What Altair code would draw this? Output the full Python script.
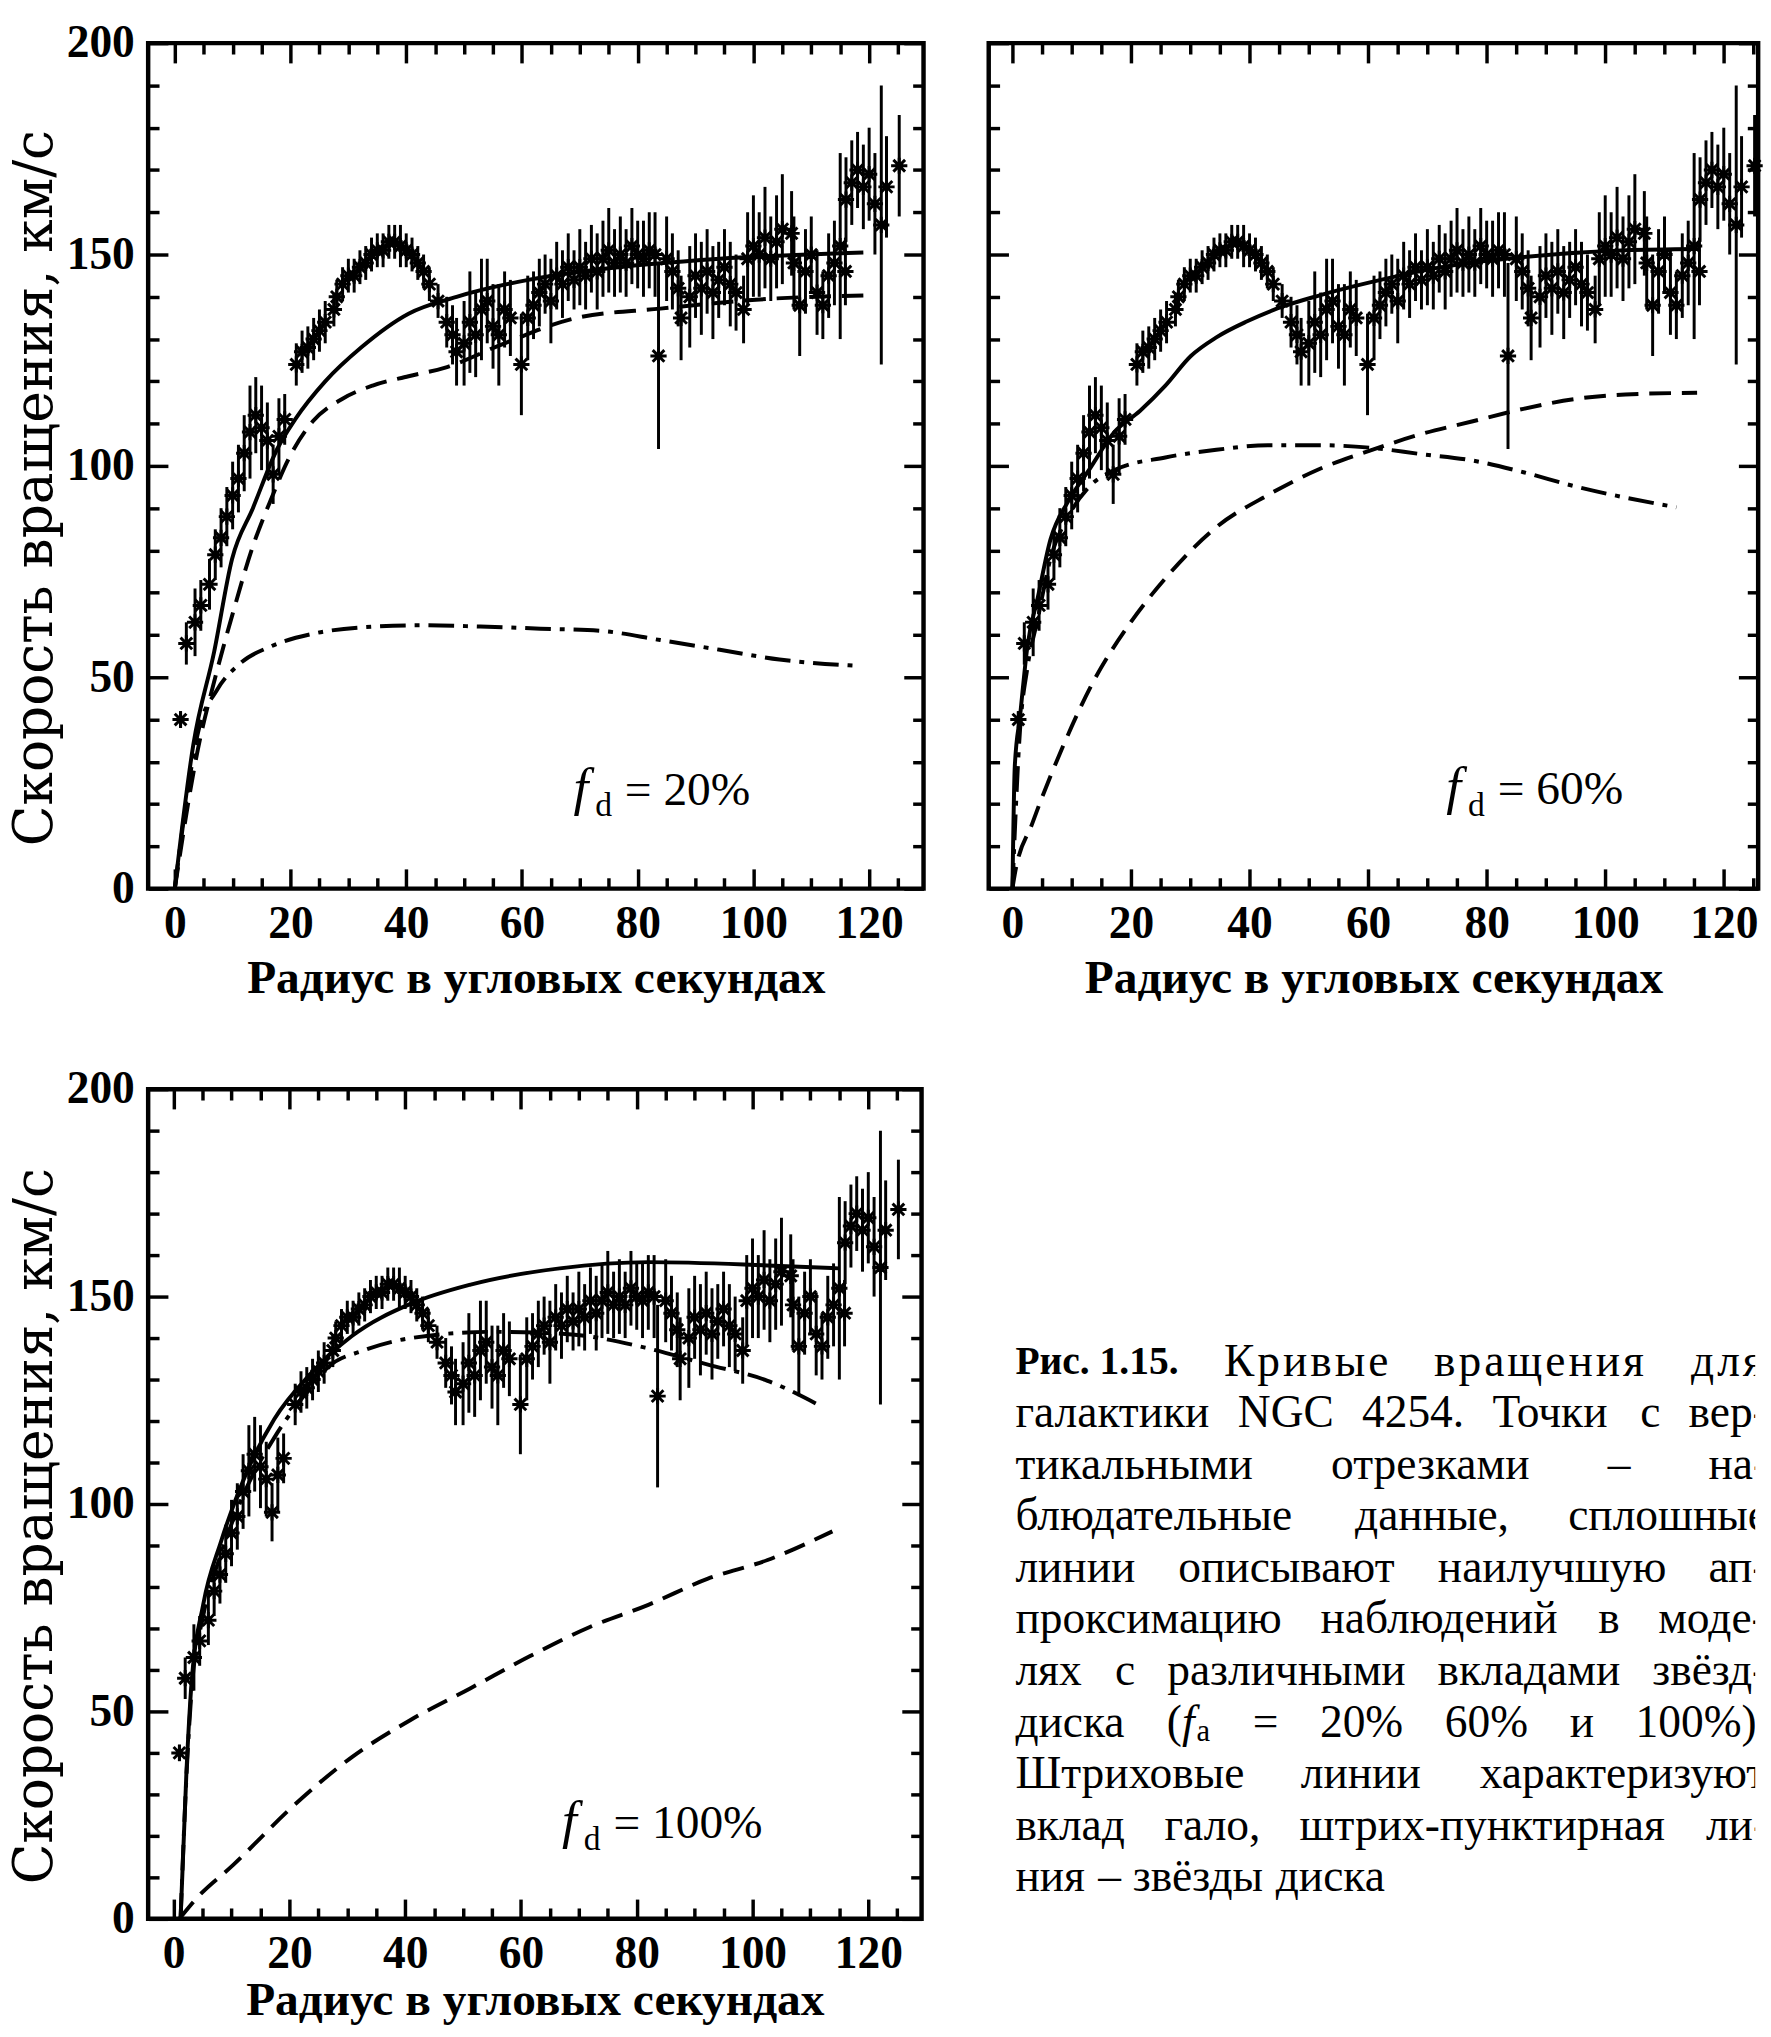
import altair as alt
import pandas as pd

# ---------------------------------------------------------------------------
# Observed rotation curve of NGC 4254: radius (arcsec), velocity and error (km/s)
# ---------------------------------------------------------------------------
obs_radius = [
    1, 2, 3.5, 4.5, 6, 7, 8, 9, 10, 11, 12, 13, 14, 15, 16, 17, 18, 19,
    21, 22, 23, 24, 25, 26, 27.5, 28, 29, 30, 31, 32, 33, 34, 35, 36, 37, 38, 39,
    40, 41, 42, 43, 44, 45.5, 47, 48, 48.7, 50, 51, 52, 53, 54, 55, 56, 57, 58,
    59.9, 61, 62, 63, 64, 65, 66, 67, 68, 69, 70, 71, 72, 73, 74, 75, 76, 77, 78,
    79, 80, 81, 82, 83, 83.6, 85, 86, 87, 87.5, 89, 90, 91, 92, 93, 94, 95, 96, 97,
    98.3, 99, 100, 101, 102, 103, 104, 105, 106.6, 107, 108, 109, 110, 111, 112,
    113, 114, 115, 115.9, 116, 117, 118, 119, 120, 121, 122.1, 123, 125.2,
]
obs_velocity = [
    40, 58, 63, 67, 72, 79, 83, 88, 93, 97, 103, 108, 112, 109, 106, 98, 107, 111,
    124, 127, 128, 130, 132, 134, 137, 140, 143, 145, 145, 147, 148, 150, 151, 151, 153, 153, 152,
    151, 150, 148, 146, 143, 139, 134, 131, 127, 129, 134, 131, 137, 139, 133, 131, 137, 135,
    124, 135, 138, 141, 143, 139, 145, 143, 147, 144, 147, 145, 149, 146, 149, 151, 148, 150, 148,
    152, 150, 149, 151, 150, 126, 149, 146, 142, 135, 140, 145, 142, 146, 141, 144, 147, 143, 141,
    137, 149, 152, 150, 154, 149, 153, 156, 155, 148, 138, 146, 150, 141, 138,
    145, 148, 152, 146, 163, 167, 170, 166, 169, 162, 157, 166, 171,
]
obs_error = [
    2, 5, 8, 6, 6, 6, 7, 7, 8, 8, 9, 11, 9, 10, 9, 7, 9, 6,
    5, 5, 5, 5, 5, 5, 4, 4, 4, 4, 4, 4, 4, 4, 4, 4, 4, 4, 5,
    4, 4, 4, 4, 4, 4, 6, 7, 8, 10, 12, 10, 12, 10, 10, 12, 9, 9,
    12, 10, 8, 8, 7, 10, 8, 8, 8, 7, 9, 8, 8, 9, 9, 10, 8, 9, 8,
    9, 8, 9, 9, 10, 22, 10, 9, 9, 10, 12, 10, 11, 10, 11, 9, 9, 10, 9,
    8, 11, 12, 10, 12, 10, 11, 13, 10, 11, 12, 10, 9, 10, 8,
    10, 10, 22, 8, 10, 10, 9, 10, 11, 12, 33, 12, 12,
]

# ---------------------------------------------------------------------------
# Model fits: total (solid), halo (dashed), stellar disk (dash-dot)
# ---------------------------------------------------------------------------
fd20_total_r = [0, 3.2, 6.8, 9.9, 13.5, 17.7, 20.8, 26, 32.2, 40.4, 48.7, 61.1, 73.5, 94.2, 119]
fd20_total_v = [0, 34, 56, 78, 90, 104, 111, 120, 128, 136, 140, 144, 146.5, 149, 150.5]
fd20_halo_r = [0, 4, 7, 10, 13.5, 16.6, 19.8, 23.9, 29, 34.2, 40.4, 46.6, 57, 69.4, 83.9, 102.5, 119]
fd20_halo_v = [0, 33, 50, 65, 81, 92, 102, 110.6, 115.9, 119, 121.2, 123.2, 129, 135, 137.2, 139.5, 140.3]
fd20_disk_r = [0, 4.2, 7.3, 11.5, 16.6, 23.9, 32.2, 42.5, 52.8, 63.2, 73.5, 83.9, 94.2, 104.5, 118]
fd20_disk_v = [0, 38, 47, 53.5, 57.3, 60.3, 61.8, 62.3, 62, 61.5, 61, 58.8, 56.5, 54.2, 52.7]

fd60_total_r = [0, 0.4, 1.3, 2.5, 4.3, 6.4, 9.4, 12.9, 17.2, 21.5, 25.8, 30.1, 34.4, 39.6, 44.8,
                51.7, 60.3, 73.2, 86.2, 103.4, 115.5]
fd60_total_v = [0, 29, 41, 57, 69, 82.5, 91.6, 99, 108, 113, 119, 126, 130.4, 134.2, 137.3,
                140.3, 143.4, 147.2, 149.4, 151, 151.3]
fd60_halo_r = [0, 0.4, 3.4, 8.6, 13.7, 19.8, 25.8, 34.4, 43.1, 51.7, 60.3, 68.9, 77.5, 86.2,
               94.8, 103.4, 115.5]
fd60_halo_v = [0, 3.4, 15.6, 33.9, 49.1, 62.7, 73.4, 85.5, 93.1, 99.2, 103.6, 107.5, 110.5, 113.5,
               115.8, 116.9, 117.3]
fd60_disk_r = [0, 1.3, 2.5, 4.3, 6.4, 9.4, 12.9, 17.2, 25.8, 34.4, 43.1, 51.7, 60.3, 68.9, 77.5,
               86.2, 94.8, 103.4, 112]
fd60_disk_v = [0, 38, 52, 64, 78, 88, 95, 99, 102, 103.8, 104.9, 104.9, 104.3, 102.8, 101.3,
               98.5, 95.2, 92.5, 90.2]

fd100_total_r = [1.2, 2.2, 3.1, 5.1, 8.2, 12.3, 17.4, 23.6, 30.8, 41, 51.3, 66.7, 82, 102.6, 114.9]
fd100_total_v = [0, 35, 57, 75.7, 91, 106.6, 120.5, 131.3, 140.5, 148.3, 152.9, 156.8, 158.3, 157.5, 156.8]
fd100_halo_r = [1, 4, 10.3, 20.5, 30.8, 41, 51.3, 61.5, 71.8, 82, 92.3, 102.6, 113.8]
fd100_halo_v = [0, 5, 13, 27, 39, 48, 55.6, 63.3, 70.3, 75.7, 82, 86.5, 93.4]
fd100_disk_r = [1.2, 2.2, 3.1, 5.1, 8.2, 12.3, 17.4, 23.6, 26.7, 32.8, 41, 55, 67.7, 82, 92.3, 102.6, 111.8]
fd100_disk_v = [0, 34, 55, 73, 88, 103, 116, 128, 133, 137, 140, 141.5, 141, 137.5, 133.6, 129.7, 123.6]

x_major = [0, 20, 40, 60, 80, 100, 120]
x_minor = [v for v in range(5, 130, 5) if v % 20]
y_major = [0, 50, 100, 150, 200]
y_minor = [v for v in range(10, 200, 10) if v % 50]

# ---------------------------------------------------------------------------
# Figure caption (justified column, last line left as is)
# ---------------------------------------------------------------------------
caption_text = [
    "Рис.\u00a01.15. Кривые вращения для",
    "галактики NGC 4254. Точки с вер-",
    "тикальными отрезками – на-",
    "блюдательные данные, сплошные",
    "линии описывают наилучшую ап-",
    "проксимацию наблюдений в моде-",
    "лях с различными вкладами звёзд-",
    "диска (fa = 20% 60% и 100%).",
    "Штриховые линии характеризуют",
    "вклад гало, штрих-пунктирная ли-",
    "ния – звёзды диска",
]

SERIF = "Liberation Serif"
TITLE_SERIF = "DejaVu Serif"
STAR = "M-1,0L1,0M0,-1L0,1M-0.72,-0.72L0.72,0.72M-0.72,0.72L0.72,-0.72"
MINOR, MAJOR = 11, 20

obs = pd.DataFrame({"r": obs_radius, "v": obs_velocity, "e": obs_error})
obs["lo"] = obs["v"] - obs["e"]
obs["hi"] = obs["v"] + obs["e"]

X_LABELS = dict(labels=True, labelFont=SERIF, labelFontSize=46, labelFontWeight="bold",
                labelColor="black", labelPadding=13, labelFlush=False, labelOverlap=False)
Y_LABELS = dict(labels=True, labelFont=SERIF, labelFontSize=46, labelFontWeight="bold",
                labelColor="black", labelPadding=14, labelFlush=False, labelOverlap=False)
X_TITLE = dict(title="Радиус в угловых секундах", titleFont=SERIF, titleFontSize=48,
               titleFontWeight="bold", titleColor="black")
Y_TITLE = dict(title="Скорость вращения, км/с", titleFont=TITLE_SERIF, titleFontSize=54,
               titleFontWeight="normal", titleColor="black", titlePadding=4)


def tick_axis(orient, values, size, **extra):
    """Inward-pointing ticks: the axis line is pulled inside by the tick length."""
    opts = dict(orient=orient, values=values, tickSize=size, offset=-size, domain=False,
                grid=False, ticks=True, tickColor="black", tickWidth=3.5, labels=False,
                title=None)
    opts.update(extra)
    return alt.Axis(**opts)


def panel(total, halo, disk, xdom, width, height, note, note_at, y_labelled, x_title_pad):
    xs = alt.Scale(domain=xdom, nice=False, zero=False)
    ys = alt.Scale(domain=[0, 200], nice=False, zero=False)

    bars = alt.Chart(obs).mark_rule(color="black", strokeWidth=3).encode(
        x=alt.X("r:Q", scale=xs, axis=tick_axis("bottom", x_minor, MINOR)),
        y=alt.Y("lo:Q", scale=ys, axis=tick_axis("left", y_minor, MINOR)),
        y2="hi:Q",
    )
    if y_labelled:
        y_major_axis = tick_axis("left", y_major, MAJOR, titleY=height / 2 + 22,
                                 **Y_LABELS, **Y_TITLE)
    else:
        y_major_axis = tick_axis("left", y_major, MAJOR)
    x_major_axis = tick_axis("bottom", x_major, MAJOR, titlePadding=x_title_pad,
                             **X_LABELS, **X_TITLE)
    stars = alt.Chart(obs).mark_point(shape=STAR, size=270, filled=False, stroke="black",
                                      strokeWidth=3, opacity=1).encode(
        x=alt.X("r:Q", scale=xs, axis=x_major_axis),
        y=alt.Y("v:Q", scale=ys, axis=y_major_axis),
    )

    def curve(rv, dash, frame_axes):
        df = pd.DataFrame({"r": rv[0], "v": rv[1]})
        kw = dict(color="black", strokeWidth=4, interpolate="monotone")
        if dash:
            kw["strokeDash"] = dash
        if frame_axes == "minor":
            enc = dict(x=alt.X("r:Q", scale=xs, axis=tick_axis("top", x_minor, MINOR)),
                       y=alt.Y("v:Q", scale=ys, axis=tick_axis("right", y_minor, MINOR)))
        elif frame_axes == "major":
            enc = dict(x=alt.X("r:Q", scale=xs, axis=tick_axis("top", x_major, MAJOR)),
                       y=alt.Y("v:Q", scale=ys, axis=tick_axis("right", y_major, MAJOR)))
        else:
            enc = dict(x=alt.X("r:Q", scale=xs, axis=None), y=alt.Y("v:Q", scale=ys, axis=None))
        return alt.Chart(df).mark_line(**kw).encode(**enc)

    solid = curve(total, None, "minor")
    dashed = curve(halo, [22, 11], "major")
    dashdot = curve(disk, [26, 9, 5, 9], None)

    anchor = alt.Chart(pd.DataFrame({"r": [note_at[0]], "v": [note_at[1]]})).encode(
        x=alt.X("r:Q", scale=xs, axis=None), y=alt.Y("v:Q", scale=ys, axis=None))
    txt = dict(font=SERIF, color="black", align="left", baseline="alphabetic")
    f_sym = anchor.mark_text(text="f", fontSize=54, fontStyle="italic", **txt)
    f_sub = anchor.mark_text(text="d", fontSize=34, dx=22, dy=12, **txt)
    f_val = anchor.mark_text(text=note, fontSize=48, dx=52, **txt)

    return (
        alt.layer(bars, stars, solid, dashed, dashdot, f_sym, f_sub, f_val)
        .resolve_axis(x="independent", y="independent")
        .properties(width=width, height=height,
                    view=alt.ViewBackground(stroke="black", strokeWidth=4.5, fill="white"))
    )


p20 = panel((fd20_total_r, fd20_total_v), (fd20_halo_r, fd20_halo_v), (fd20_disk_r, fd20_disk_v),
            [-4.6, 129.4], 785, 856, "= 20%", (68.9, 19.9), True, 9)
p60 = panel((fd60_total_r, fd60_total_v), (fd60_halo_r, fd60_halo_v), (fd60_disk_r, fd60_disk_v),
            [-4.0, 125.8], 779, 856, "= 60%", (73.2, 20.1), False, 9)
p100 = panel((fd100_total_r, fd100_total_v), (fd100_halo_r, fd100_halo_v),
             (fd100_disk_r, fd100_disk_v),
             [-4.4, 129.2], 783, 840, "= 100%", (67.1, 19.5), True, 1)

# ---------------------------------------------------------------------------
# Caption layout: approximate Times advance widths (em) used to justify lines
# ---------------------------------------------------------------------------
EM = {
    "а": .444, "б": .509, "в": .472, "г": .410, "д": .509, "е": .444, "ё": .444, "ж": .691,
    "з": .395, "и": .535, "й": .535, "к": .486, "л": .499, "м": .633, "н": .535, "о": .5,
    "п": .535, "р": .5, "с": .444, "т": .437, "у": .5, "ф": .648, "х": .5, "ц": .535,
    "ч": .5, "ш": .77, "щ": .77, "ъ": .5, "ы": .672, "ь": .456, "э": .444, "ю": .725, "я": .491,
    "Р": .556, "Т": .611, "Ш": .925, "К": .667, "N": .722, "G": .722, "C": .667,
    ".": .25, ",": .25, "-": .333, "–": .5, "(": .333, ")": .333, "%": .833, "=": .564,
    "\u00a0": .25, "f": .278, "a": .444,
}
SIZE = {"normal": 46, "bold": 40, "italic": 46, "sub": 31}
TRACK = 3            # extra letter spacing on the spaced-out first line
CAP_W, CAP_H = 776, 834
CAP_LEFT, CAP_RIGHT = 27, 789
CAP_FIRST, CAP_STEP = 276, 52.2


def run_width(text, style):
    return sum(EM.get(ch, .5) for ch in text) * SIZE[style] * (1.04 if style == "bold" else 1)


def word_runs(token, line_no):
    if token.startswith("Рис."):
        return [(token, "bold", 0)]
    if token == "(fa":
        return [("(", "normal", 0), ("f", "italic", 2), ("a", "sub", 1)]
    if line_no == 0:
        return [(ch, "normal", TRACK) for ch in token]
    return [(token, "normal", 0)]


cap_rows = []
for i, line in enumerate(caption_text):
    words = [word_runs(tok, i) for tok in line.split(" ")]
    widths = [sum(run_width(t, s) + extra for t, s, extra in w) for w in words]
    last = i == len(caption_text) - 1
    gap = 12 if last else (CAP_RIGHT - CAP_LEFT - sum(widths)) / (len(words) - 1)
    x = CAP_LEFT
    for w, wd in zip(words, widths):
        cx = x
        for t, s, extra in w:
            cap_rows.append({"line": i, "x": cx, "text": t, "style": s})
            cx += run_width(t, s) + extra
        x += wd + gap

cap = pd.DataFrame(cap_rows)
cap["y"] = CAP_FIRST + cap["line"] * CAP_STEP
cap_base = alt.Chart(cap).encode(
    x=alt.X("x:Q", scale=alt.Scale(domain=[0, CAP_W], nice=False, zero=False), axis=None),
    y=alt.Y("y:Q", scale=alt.Scale(domain=[0, CAP_H], nice=False, zero=False, reverse=True),
            axis=None),
    text="text:N",
)
ctext = dict(font=SERIF, color="black", align="left", baseline="middle", clip=True)
cap_normal = cap_base.transform_filter(alt.datum.style == "normal").mark_text(
    fontSize=SIZE["normal"], **ctext)
cap_bold = cap_base.transform_filter(alt.datum.style == "bold").mark_text(
    fontSize=SIZE["bold"], fontWeight="bold", **ctext)
cap_italic = cap_base.transform_filter(alt.datum.style == "italic").mark_text(
    fontSize=SIZE["italic"], fontStyle="italic", **ctext)
cap_sub = cap_base.transform_filter(alt.datum.style == "sub").mark_text(
    fontSize=SIZE["sub"], dy=10, **ctext)
caption = alt.layer(cap_normal, cap_bold, cap_italic, cap_sub).properties(
    width=CAP_W, height=CAP_H, view=alt.ViewBackground(stroke="transparent"))

chart = alt.concat(
    p20, p60, p100, caption, columns=2, spacing={"row": 203, "column": 66}, bounds="flush"
).properties(
    padding={"left": 6, "top": 5, "right": 0, "bottom": 2},
    background="white",
)

chart.save("out.html", embed_options={"renderer": "svg", "actions": False})
